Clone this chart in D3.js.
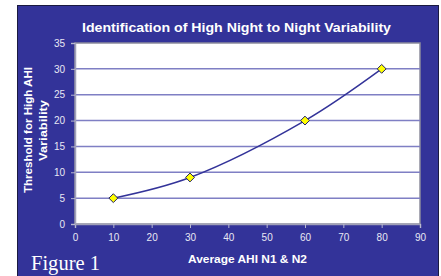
<!DOCTYPE html>
<html>
<head>
<meta charset="utf-8">
<script src="https://cdn.jsdelivr.net/npm/d3@7"></script>
<style>
  body { margin: 0; background: #fff; }
  svg { display: block; }
  text { font-family: "Liberation Sans", Arial, sans-serif; }
</style>
</head>
<body>
<div class="chart"></div>
<script>
// values
var avgAhi = [10, 30, 60, 80];
var threshold = [5, 9, 20, 30];
var xTicks = [0, 10, 20, 30, 40, 50, 60, 70, 80, 90];
var yTicks = [0, 5, 10, 15, 20, 25, 30, 35];

var width = 441,
    height = 276,
    margin = ({ top: 43, right: 21, bottom: 52, left: 75 });

var data = avgAhi.map((d, i) => ({ x: d, y: threshold[i] }));

var svg = d3.select(".chart").append("svg")
    .attr("width", width)
    .attr("height", height);

// blue panel
svg.append("rect")
    .attr("x", 17.5).attr("y", 5.5)
    .attr("width", 421).attr("height", 275)
    .attr("fill", "#333399")
    .attr("stroke", "#1a1a40")
    .attr("stroke-width", 1);

var x = d3.scaleLinear()
    .domain([0, 90])
    .range([margin.left, width - margin.right]);

var y = d3.scaleLinear()
    .domain([0, 35])
    .range([height - margin.bottom, margin.top]);

svg.append("rect")
    .attr("x", x(0)).attr("y", y(35))
    .attr("width", x(90) - x(0)).attr("height", y(0) - y(35))
    .attr("fill", "#fff")
    .attr("stroke", "#8c8c9c")
    .attr("stroke-width", 1.5);

// gridlines
svg.append("g")
    .selectAll("line")
    .data(yTicks.filter(d => d > 0 && d < 35))
    .join("line")
    .attr("x1", x(0)).attr("x2", x(90))
    .attr("y1", d => y(d)).attr("y2", d => y(d))
    .attr("stroke", "#7f7fc4")
    .attr("stroke-width", 1.5);

var tickStyle = g => g
    .call(g => g.select(".domain").attr("stroke", "#a0a0b8").attr("stroke-width", 1.5))
    .call(g => g.selectAll(".tick line").attr("stroke", "#b8b8d0"))
    .call(g => g.selectAll(".tick text").attr("fill", "#e8e8f4").attr("font-size", 10)
        .attr("font-family", "Liberation Sans, Arial, sans-serif"));

var xAxis = g => g
    .attr("transform", `translate(0,${y(0)})`)
    .call(d3.axisBottom(x).tickValues(xTicks).tickSize(4).tickPadding(6))
    .call(tickStyle);

var yAxis = g => g
    .attr("transform", `translate(${x(0)},0)`)
    .call(d3.axisLeft(y).tickValues(yTicks).tickSize(4).tickPadding(6))
    .call(tickStyle);

svg.append("g").call(xAxis);
svg.append("g").call(yAxis);

var line = d3.line()
    .x(d => x(d.x))
    .y(d => y(d.y))
    .curve(d3.curveCatmullRom.alpha(0.5));

svg.append("path")
    .datum(data)
    .attr("fill", "none")
    .attr("stroke", "#333399")
    .attr("stroke-width", 1.5)
    .attr("d", line);

svg.append("g")
    .selectAll("path")
    .data(data)
    .join("path")
    .attr("transform", d => `translate(${x(d.x)},${y(d.y)})`)
    .attr("d", d3.symbol(d3.symbolDiamond2, 50))
    .attr("fill", "#ffff00")
    .attr("stroke", "#222266")
    .attr("stroke-width", 1);

// titles
svg.append("text")
    .attr("x", 82).attr("y", 32)
    .attr("fill", "#fff")
    .attr("font-weight", "bold")
    .attr("font-size", 13)
    .attr("textLength", 309)
    .attr("lengthAdjust", "spacingAndGlyphs")
    .text("Identification of High Night to Night Variability");

var yTitle = svg.append("text")
    .attr("transform", "translate(36,130) rotate(-90)")
    .attr("fill", "#fff")
    .attr("font-weight", "bold")
    .attr("font-size", 10.5);
yTitle.append("tspan").attr("x", -63).attr("y", -4)
    .attr("textLength", 126).attr("lengthAdjust", "spacingAndGlyphs")
    .text("Threshold for High AHI");
yTitle.append("tspan").attr("x", -31).attr("y", 11)
    .attr("textLength", 61).attr("lengthAdjust", "spacingAndGlyphs")
    .text("Variability");

svg.append("text")
    .attr("x", 188).attr("y", 263)
    .attr("fill", "#fff")
    .attr("font-weight", "bold")
    .attr("font-size", 11)
    .attr("textLength", 119)
    .attr("lengthAdjust", "spacingAndGlyphs")
    .text("Average AHI N1 & N2");

svg.append("text")
    .attr("x", 31).attr("y", 270)
    .attr("fill", "#fff")
    .attr("font-size", 22)
    .attr("textLength", 69)
    .attr("lengthAdjust", "spacingAndGlyphs")
    .style("font-family", "Liberation Serif, 'Times New Roman', serif")
    .text("Figure 1");
</script>
</body>
</html>
